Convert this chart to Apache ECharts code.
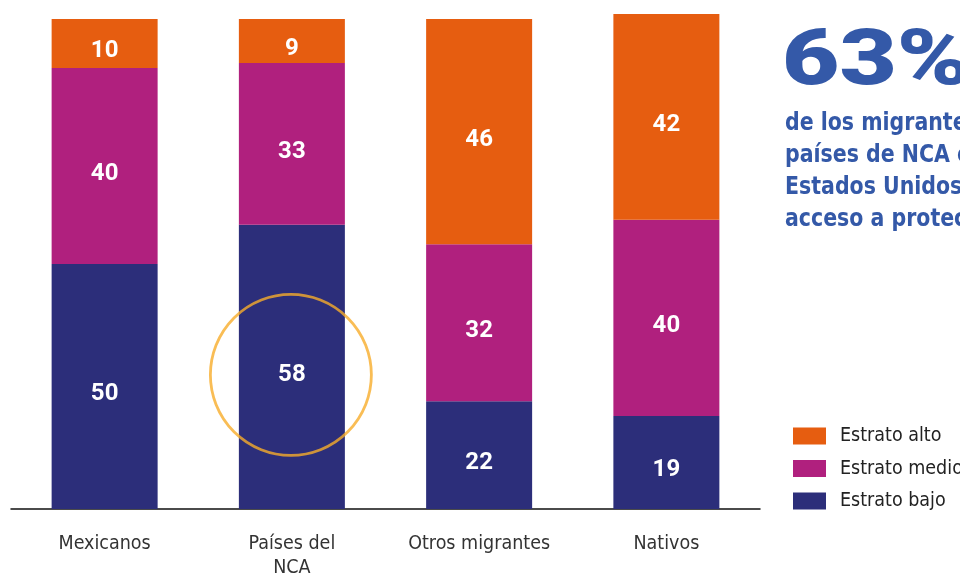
<!DOCTYPE html>
<html>
<head>
<meta charset="utf-8">
<script src="https://cdn.jsdelivr.net/npm/echarts@6/dist/echarts.min.js"></script>
<style>
  html, body { margin: 0; padding: 0; background: #fff; }
  #chart { width: 960px; height: 580px; }
</style>
</head>
<body>
<div id="chart"></div>
<script>
// datos
const categorias = ['Mexicanos', 'Países del\nNCA', 'Otros migrantes', 'Nativos'];
const estratoBajo = [50, 58, 22, 19];
const estratoMedio = [40, 33, 32, 40];
const estratoAlto = [10, 9, 46, 42];
const destacado = [null, 29, null, null];

const colores = { alto: '#E65D10', medio: '#B0207E', bajo: '#2C2E7A' };
const fuenteCond = '"Liberation Sans Narrow", "DejaVu Sans Condensed", "Roboto", sans-serif';

const etiqueta = {
  show: true,
  color: '#fff',
  fontFamily: 'Roboto, sans-serif',
  fontWeight: 'bold',
  fontSize: 24,
  offset: [0, 8]
};

const chart = echarts.init(document.getElementById('chart'));

chart.setOption({
  animation: false,
  grid: { left: 11, right: 200, top: 14, bottom: 67 },
  legend: {
    data: ['Estrato alto', 'Estrato medio', 'Estrato bajo'],
    orient: 'vertical',
    left: 793,
    top: 426,
    padding: 0,
    itemWidth: 33,
    itemHeight: 17,
    itemGap: 12.5,
    icon: 'rect',
    textStyle: { fontFamily: fuenteCond, fontSize: 19.5, color: '#222', padding: [0, 0, 0, 9] }
  },
  xAxis: {
    type: 'category',
    data: categorias,
    axisLine: { lineStyle: { color: '#111', width: 1.5 } },
    axisTick: { show: false },
    axisLabel: {
      fontFamily: fuenteCond,
      fontSize: 19.5,
      color: '#333',
      margin: 23,
      lineHeight: 24,
      interval: 0
    }
  },
  yAxis: {
    type: 'value',
    min: 0,
    max: 101,
    show: false,
    splitLine: { show: false }
  },
  series: [
    {
      name: 'Estrato bajo', type: 'bar', stack: 'total', barWidth: 106,
      data: estratoBajo, itemStyle: { color: colores.bajo }, label: etiqueta
    },
    {
      name: 'Estrato medio', type: 'bar', stack: 'total',
      data: estratoMedio, itemStyle: { color: colores.medio }, label: etiqueta
    },
    {
      name: 'Estrato alto', type: 'bar', stack: 'total',
      data: estratoAlto, itemStyle: { color: colores.alto }, label: etiqueta
    },
    {
      name: 'circulo', type: 'scatter', data: destacado,
      symbol: 'circle', symbolSize: 161, symbolOffset: [-1, 8],
      itemStyle: { color: 'rgba(0,0,0,0)', borderColor: '#F7AC2B', borderWidth: 2.8 },
      silent: true, z: 5
    }
  ],
  graphic: [
    {
      type: 'text', x: 782, y: 25, scaleX: 1.27,
      style: { text: '63%', fontFamily: 'Roboto, sans-serif', fontWeight: 900, fontSize: 78, fill: '#3459A8' }
    },
    {
      type: 'text', x: 785, y: 108, scaleX: 0.95,
      style: {
        text: 'de los migrantes de\npaíses de NCA en\nEstados Unidos tiene\nacceso a protección',
        fontFamily: fuenteCond, fontWeight: 'bold', fontSize: 24, lineHeight: 32, fill: '#3459A8'
      }
    }
  ]
});
</script>
</body>
</html>
